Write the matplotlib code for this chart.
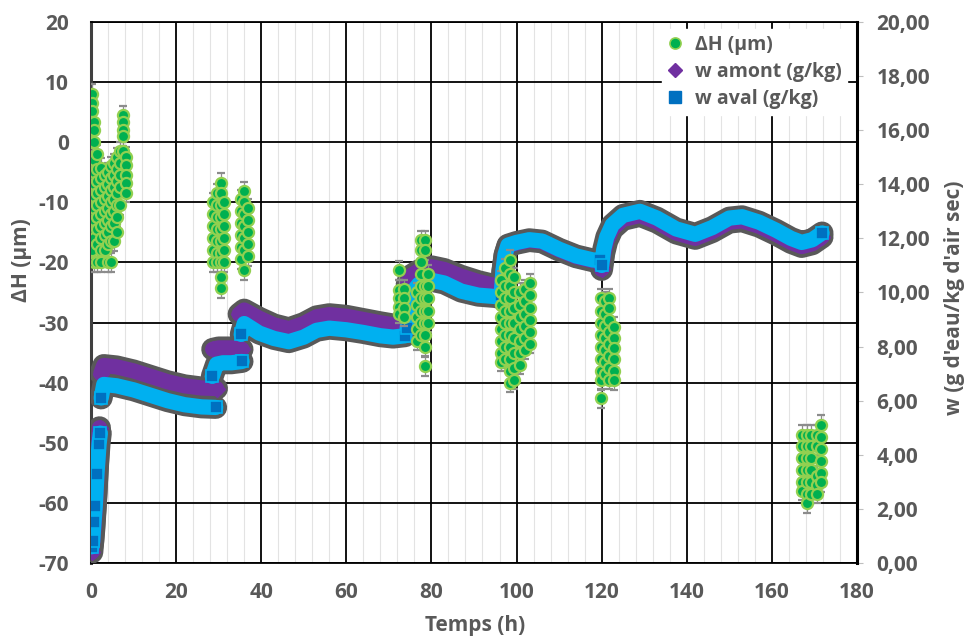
import matplotlib.pyplot as plt
from matplotlib.lines import Line2D
from matplotlib.ticker import MultipleLocator

plt.rcParams['font.family'] = ['Open Sans', 'DejaVu Sans']
plt.rcParams['font.weight'] = 'bold'
plt.rcParams['axes.unicode_minus'] = False

# x / y ticks
x_ticks = [0, 20, 40, 60, 80, 100, 120, 140, 160, 180]
dh_ticks = [-70, -60, -50, -40, -30, -20, -10, 0, 10, 20]
w_ticks = [0, 2, 4, 6, 8, 10, 12, 14, 16, 18, 20]
w_tick_labels = ['0,00', '2,00', '4,00', '6,00', '8,00', '10,00',
                 '12,00', '14,00', '16,00', '18,00', '20,00']

# delta H (um): one time per column, values of the column
dh_col_t = [0.2, 0.8, 1.5, 2.4, 3.2, 3.9, 4.6, 5.3, 6.0, 6.8, 7.5, 8.3,
            28.7, 29.6, 30.5, 31.3, 35.2, 36.0, 37.0,
            72.3, 73.5, 76.5, 77.5, 78.5, 79.3,
            96.3, 97.3, 98.5, 99.5, 100.8, 102.0, 103.2,
            119.8, 120.8, 121.8, 122.8,
            167.2, 168.3, 169.3, 170.5, 171.6]
dh_col_v = [
    [8, 6.5, 5.2, 3.3, 2.0, 0.0, -2.5, -6.0, -9, -12, -15, -18],
    [3.3, 2.0, 0.0, -3, -5, -7, -9, -11, -13, -16, -20],
    [-2, -4.5, -6.5, -8.5, -10.5, -12.5, -14.5, -17, -20],
    [-4.3, -6, -8, -10, -12, -14, -16, -18, -20],
    [-5.5, -7.5, -9.5, -11.5, -13.5, -15.5, -18],
    [-5, -7, -9, -11, -13, -15, -17, -20],
    [-4, -6, -8, -10, -12, -14, -16.5, -20],
    [-3.5, -5.5, -7.5, -9.5, -11.5, -13.5, -16.5],
    [-2.5, -4.5, -6.5, -8.5, -10.5, -12.5, -15],
    [-1.5, -3.5, -5.5, -7.5, -10.5],
    [4.5, 3.4, 2.0, 1.0, -1.5],
    [-2.4, -3.8, -5.5, -6.8, -8.4],
    [-10, -12, -14, -16, -18, -20],
    [-8.5, -10.5, -12.5, -14.5, -16.5, -18.5, -20],
    [-6.8, -8.5, -10.5, -12.5, -14.5, -16.5, -18.5, -20, -22.4, -24.3],
    [-10, -12, -14, -16, -18, -20],
    [-9.5, -11.5, -13.5, -15.5, -17.5, -19.5],
    [-8.2, -10, -12, -14, -16, -18, -21.3],
    [-11, -13, -15, -17, -19],
    [-21.3, -24.6, -26, -27.4, -28.5],
    [-24.5, -26, -27.5, -29],
    [-25, -27, -29, -31, -33],
    [-16.3, -18, -20, -22, -24, -26, -28, -30, -32],
    [-16.3, -18, -24, -26, -28, -30, -32, -34, -37.3],
    [-22, -24, -26, -28, -30],
    [-23, -25, -27, -29, -31, -33, -35, -36.5],
    [-21, -24, -26, -28, -30, -32, -34, -36],
    [-19.6, -22, -24, -26, -28, -30, -32, -34, -36, -38, -40],
    [-22.5, -25, -27.5, -30, -32.5, -35, -37.5, -39.5],
    [-25, -27, -29, -31, -33, -35, -37],
    [-24.5, -26.5, -28.5, -30.5, -32.5, -34.5],
    [-23.5, -25.5, -27.5, -29.5, -31.5, -33.5],
    [-26, -28, -30, -32, -34, -36, -38, -39.6, -42.6],
    [-26.5, -28.5, -30.5, -32.5, -34.5, -36.5, -38.5],
    [-26, -27.5, -29.5, -31.5, -33.5, -35.5, -37.5, -39.5],
    [-30.7, -32.5, -34.3, -36, -38, -39.6],
    [-48.7, -50.5, -52.5, -54.5, -56.5, -58],
    [-48.7, -50.5, -52.5, -54.5, -56.5, -58.5, -60.1],
    [-48.7, -50.5, -52.5, -54.5, -56.5, -58.5],
    [-48.7, -50.5, -55.5, -57, -58.5],
    [-47, -49, -51, -53, -55, -56.6],
]
dh_err = 1.6

# w amont / w aval (g/kg), one list per measuring run
amont_t = [
    [0.2, 0.7, 1.2, 1.7, 2.0],
    [2.3, 3, 6, 10, 14, 18, 22, 26, 29.5],
    [28.6, 30, 32, 34, 35.5],
    [34.8, 36, 39.5, 43, 46.5, 50, 53, 56, 60, 64, 68, 71, 73.8],
    [74.3, 75, 77, 80, 83, 87, 91, 95, 96.5],
    [96.4, 96.8, 97.3, 98, 100, 103, 106, 110, 114, 118, 119.6],
    [120.0, 120.5, 121.2, 122.5, 125, 129, 133, 137.5, 142, 146, 150, 153,
     157, 161, 164.5, 167, 169.5, 171.8],
]
amont_w = [
    [0.4, 1.3, 2.6, 4.2, 5.0],
    [7.0, 7.3, 7.25, 7.1, 6.9, 6.7, 6.55, 6.47, 6.45],
    [7.9, 7.95, 7.95, 7.95, 7.9],
    [9.2, 9.35, 9.05, 8.8, 8.66, 8.85, 9.1, 9.18, 9.12, 9.0, 8.88, 8.8, 8.85],
    [10.3, 10.6, 10.8, 10.95, 10.85, 10.6, 10.4, 10.25, 10.2],
    [9.87, 10.77, 11.37, 11.72, 11.82, 11.92, 11.87, 11.57, 11.32, 11.17,
     11.17],
    [10.85, 11.45, 11.9, 12.35, 12.7, 12.85, 12.6, 12.2, 12.0, 12.25, 12.6,
     12.65, 12.45, 12.15, 11.85, 11.7, 11.8, 12.05],
]
aval_t = [
    [0.2, 0.4, 0.7, 1.0, 1.4, 1.9, 2.2],
    [2.4, 3, 6, 10, 14, 18, 22, 26, 29.3],
    [28.5, 29.5, 31, 33, 35.5],
    [35.3, 36, 39.5, 43, 46.5, 50, 53, 56, 60, 64, 68, 71, 73.8],
    [74.3, 74.8, 75.5, 77, 80, 83, 87, 91, 95, 96.5],
    [96.4, 96.8, 97.3, 98, 100, 103, 106, 110, 114, 118, 119.6],
    [120.0, 120.5, 121.2, 122.5, 125, 129, 133, 137.5, 142, 146, 150, 153,
     157, 161, 164.5, 167, 169.5, 171.8],
]
aval_w = [
    [0.6, 0.8, 1.5, 2.1, 3.3, 4.4, 4.8],
    [6.1, 6.6, 6.55, 6.4, 6.2, 6.0, 5.85, 5.77, 5.75],
    [6.9, 7.35, 7.4, 7.4, 7.45],
    [8.45, 8.85, 8.5, 8.3, 8.18, 8.35, 8.6, 8.68, 8.62, 8.52, 8.4, 8.35, 8.4],
    [8.7, 9.1, 10.0, 10.3, 10.45, 10.35, 10.05, 9.9, 9.85, 9.8],
    [9.9, 10.8, 11.4, 11.75, 11.85, 11.95, 11.9, 11.6, 11.35, 11.2, 11.2],
    [11.0, 11.6, 12.05, 12.5, 12.85, 13.0, 12.75, 12.35, 12.15, 12.4, 12.75,
     12.8, 12.6, 12.3, 12.0, 11.85, 11.95, 12.2],
]

txt = '#595959'
grey = '#595959'
green, green_edge = '#00b050', '#92d050'
purple = '#7030a0'
blue_band, blue_mark = '#00b0f0', '#0070c0'

fig = plt.figure(figsize=(9.67, 6.37), dpi=100)
ax1 = fig.add_axes([0.0941, 0.1162, 0.7921, 0.8493])
ax1.set_xlim(0, 180)
ax1.set_ylim(-70, 20)
ax1.set_xticks(x_ticks)
ax1.set_yticks(dh_ticks)
ax1.xaxis.set_minor_locator(MultipleLocator(4))
ax1.grid(which='major', color='black', lw=1.3)
ax1.grid(which='minor', axis='x', color='#e3e3e3', lw=0.8)
ax1.set_axisbelow(True)
ax1.tick_params(which='both', length=0, labelsize=15, labelcolor=txt)
ax1.tick_params(axis='y', pad=16)
ax1.tick_params(axis='x', pad=14)
for lab in ax1.get_xticklabels() + ax1.get_yticklabels():
    lab.set_fontweight('bold')
for s in ['top', 'bottom']:
    ax1.spines[s].set_color('black')
    ax1.spines[s].set_linewidth(1.3)
ax1.spines['left'].set_color('#404040')
ax1.spines['left'].set_linewidth(2.2)
ax1.set_xlabel('Temps (h)', fontsize=15, color=txt, fontweight='bold',
               va='center', ha='center')
ax1.set_ylabel('ΔH (µm)', fontsize=15, color=txt, fontweight='bold',
               va='center', ha='center')
ax1.xaxis.set_label_coords(0.501, -0.115)
ax1.yaxis.set_label_coords(-0.091, 0.56)

# right axis: w
ax2 = ax1.twinx()
ax2.set_ylim(0, 20)
ax2.set_yticks(w_ticks)
ax2.set_yticklabels(w_tick_labels, fontweight='bold')
ax2.tick_params(axis='y', length=4, width=0.8, color='#bfbfbf',
                labelsize=15, labelcolor=txt, pad=10)
ax2.spines['right'].set_color('black')
ax2.spines['right'].set_linewidth(2.2)
for s in ['top', 'bottom', 'left']:
    ax2.spines[s].set_visible(False)
ax2.set_ylabel("w (g d'eau/kg d'air sec)", fontsize=15, color=txt,
               fontweight='bold', va='center', ha='center')
ax2.yaxis.set_label_coords(1.128, 0.49)

band_lw = 11
grey_lw = 16.5
for t, w in zip(amont_t + aval_t, amont_w + aval_w):
    ax2.plot(t, w, color=grey, lw=grey_lw, solid_capstyle='round',
             solid_joinstyle='round', zorder=1)
for t, w in zip(amont_t, amont_w):
    ax2.plot(t, w, color=purple, lw=band_lw, solid_capstyle='round',
             solid_joinstyle='round', zorder=2)
    ax2.plot([t[0], t[-1]], [w[0], w[-1]], ls='none', marker='D', ms=8,
             color=purple, zorder=2)
for i, (t, w) in enumerate(zip(aval_t, aval_w)):
    ax2.plot(t, w, color=blue_band, lw=band_lw, solid_capstyle='round',
             solid_joinstyle='round', zorder=3)
    if i == 0:
        ax2.plot(t, w, ls='none', marker='s', ms=8, mfc=blue_mark,
                 mec=blue_band, mew=1.2, zorder=4)
    else:
        ax2.plot([t[0], t[-1]], [w[0], w[-1]], ls='none', marker='s', ms=8,
                 mfc=blue_mark, mec=blue_band, mew=1.2, zorder=4)

# top layer for delta H points
ax3 = fig.add_axes(ax1.get_position(), sharex=ax1, sharey=ax1)
ax3.axis('off')
ax3.patch.set_visible(False)
for t, vals in zip(dh_col_t, dh_col_v):
    ax3.errorbar([t] * len(vals), vals, yerr=dh_err, fmt='o', ms=8,
                 mfc=green, mec=green_edge, mew=1.6, ecolor='#8c8c8c',
                 elinewidth=0.9, capsize=3, capthick=0.9)

handles = [
    Line2D([], [], ls='none', marker='o', ms=8, mfc=green, mec=green_edge,
           mew=1.2),
    Line2D([], [], ls='none', marker='D', ms=7, color=purple),
    Line2D([], [], ls='none', marker='s', ms=8, color=blue_mark),
]
leg = ax3.legend(handles, ['ΔH (µm)', 'w amont (g/kg)', 'w aval (g/kg)'],
                 loc='upper right', bbox_to_anchor=(1.0, 1.005),
                 labelcolor=txt, frameon=True, fancybox=False,
                 framealpha=1, edgecolor='white', handlelength=0.8,
                 handletextpad=0.6, labelspacing=0.36, borderpad=0.3,
                 prop={'weight': 'bold', 'size': 14})
leg.set_zorder(10)

fig.savefig('out.png', dpi=100)
